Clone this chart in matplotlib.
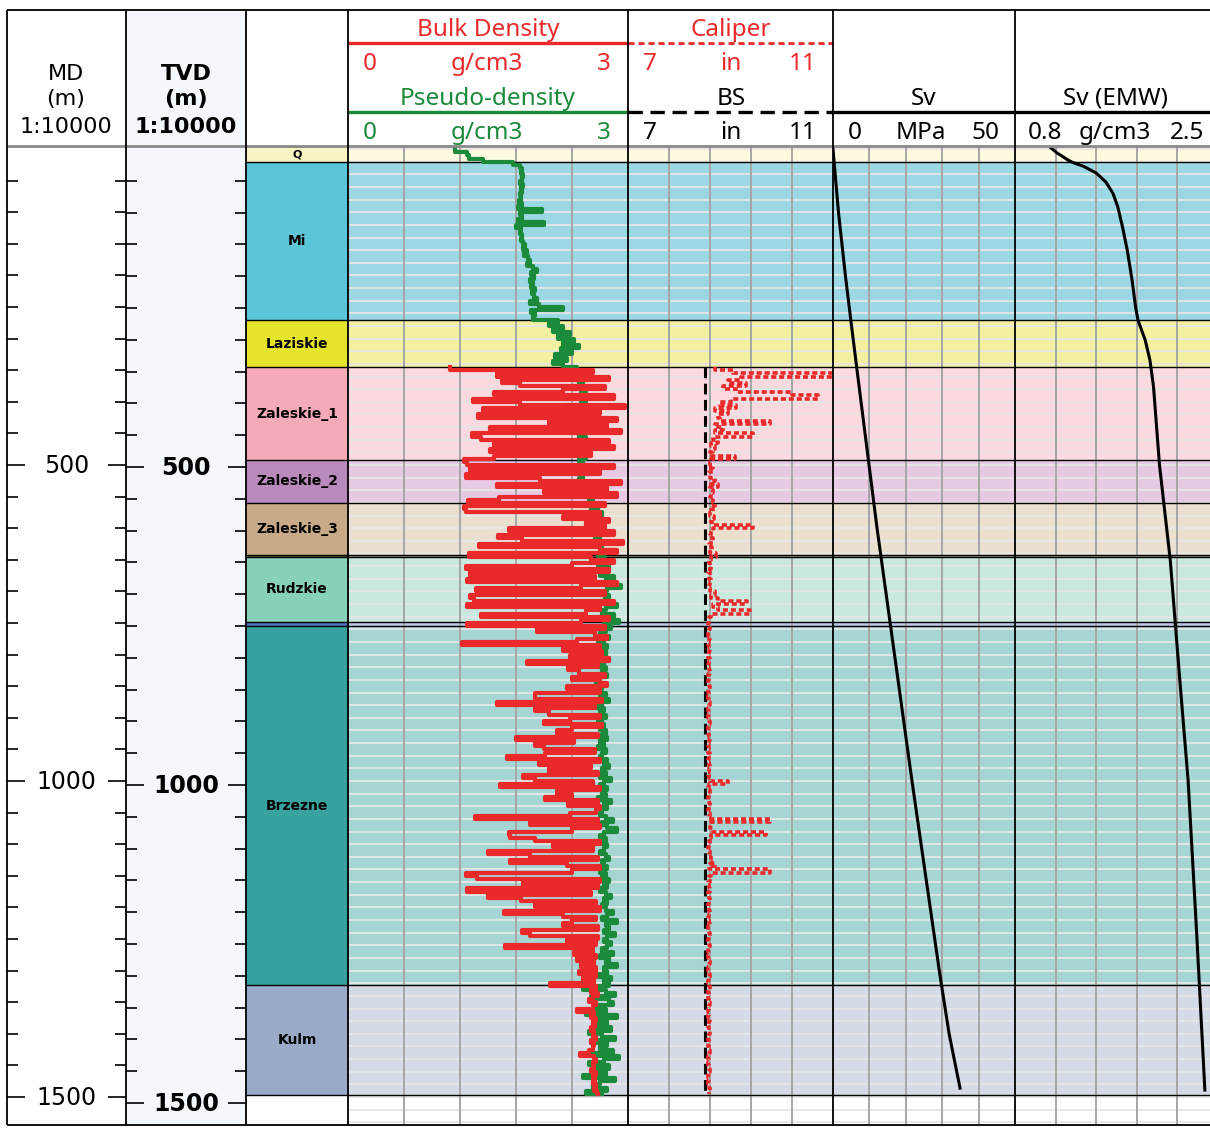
import numpy as np
import matplotlib.pyplot as plt
from matplotlib.patches import Rectangle
from matplotlib.transforms import blended_transform_factory

W, H = 1210, 1130
D_TOP, D_BOT = -3.2, 1544.3
TVD_K = 1500 / 1509.5

RED = "#ea2a2a"
GREEN = "#1b8a3a"
HEAD_FONT = ["Noto Sans", "DejaVu Sans"]

# formations: name, top, base (m MD), column colour, track colour
form_names = ["Q", "Mi", "Laziskie", "Zaleskie_1", "Zaleskie_2", "Zaleskie_3",
              "", "Rudzkie", "", "Brzezne", "Kulm"]
form_tops = [-3.2, 20.6, 270.6, 345, 492, 560, 642, 645, 748, 755, 1323]
form_bases = [20.6, 270.6, 345, 492, 560, 642, 645, 748, 755, 1323, 1497]
form_colors = ["#f8f3c2", "#5bc6d8", "#e6e32b", "#f5aab7", "#b98abb", "#c8aa88",
               "#6b6b3a", "#88d1ba", "#4f74c4", "#37a29e", "#99abc9"]
track_colors = ["#fdfae0", "#9bd8e4", "#f3f0a0", "#fbdadf", "#e8c9e4", "#ebdfcf",
                "#a9a77a", "#c9e9e0", "#b9c8ea", "#a6d6d4", "#d4dbe7"]

# bulk density (g/cm3), every 5 m from 345 m
rhob_start = 345
rhob = [
    1.09, 2.62, 1.60, 2.80, 1.65, 1.84, 2.75, 2.30, 1.56, 2.85,
    1.34, 1.84, 2.97, 1.45, 2.70, 1.39, 2.88, 2.15, 2.78, 1.52,
    2.92, 1.33, 1.42, 2.80, 1.56, 2.85, 1.52, 2.60, 1.56, 1.24,
    1.27, 2.85, 1.31, 2.70, 1.26, 2.06, 2.92, 1.60, 2.78, 2.10,
    2.88, 1.62, 1.29, 2.75, 1.24, 1.26, 2.70, 2.30, 2.80, 2.55,
    2.75, 1.73, 2.85, 1.61, 1.86, 2.95, 1.40, 2.70, 2.88, 1.30,
    2.60, 2.85, 2.40, 1.26, 2.80, 1.31, 2.65, 1.28, 2.88, 2.50,
    1.37, 2.75, 1.31, 1.35, 2.85, 1.28, 2.70, 2.55, 1.43, 2.80,
    2.50, 1.28, 2.75, 2.03, 2.65, 2.78, 2.45, 1.22, 2.70, 2.30,
    2.72, 2.38, 2.80, 1.92, 2.68, 2.36, 2.47, 2.75, 2.40, 2.70,
    2.78, 2.35, 2.70, 2.00, 2.00, 2.72, 1.60, 2.65, 2.00, 2.15,
    2.70, 2.38, 2.10, 2.72, 2.40, 2.24, 2.68, 1.80, 2.42, 2.00,
    2.10, 2.65, 2.11, 1.70, 2.70, 2.05, 2.60, 2.15, 2.68, 1.87,
    2.00, 2.62, 1.63, 2.70, 2.24, 2.40, 2.11, 2.68, 2.36, 2.70,
    2.66, 2.38, 1.36, 2.68, 1.95, 2.70, 2.40, 1.72, 1.74, 2.00,
    2.70, 2.20, 2.62, 1.50, 1.95, 2.68, 1.74, 2.35, 2.70, 2.40,
    1.26, 1.38, 2.70, 1.87, 2.68, 1.27, 2.60, 1.50, 1.85, 2.66,
    2.00, 2.70, 1.67, 2.30, 2.66, 2.40, 2.30, 2.68, 1.86, 1.95,
    2.68, 2.35, 2.66, 1.68, 2.62, 2.42, 2.66, 2.45, 2.64, 2.50,
    2.66, 2.48, 2.66, 2.52, 2.64, 2.16, 2.66, 2.60, 2.68, 2.62,
    2.58, 2.66, 2.62, 2.45, 2.64, 2.60, 2.66, 2.62, 2.65, 2.60,
    2.64, 2.62, 2.66, 2.60, 2.64, 2.62, 2.58, 2.49, 2.64, 2.66,
    2.62, 2.64, 2.60, 2.66, 2.63, 2.65, 2.62, 2.66, 2.64, 2.67,
    2.68,
]

# pseudo-density (g/cm3), every 5 m from 0 m
rhop_start = 0
rhop = [
    1.15, 1.27, 1.30, 1.45, 1.77, 1.84, 1.86, 1.85, 1.87, 1.86,
    1.84, 1.87, 1.85, 1.86, 1.84, 1.85, 1.83, 1.86, 1.82, 2.08,
    1.84, 1.86, 1.82, 2.10, 1.80, 1.85, 1.84, 1.86, 1.85, 1.88,
    1.90, 1.87, 1.92, 1.89, 1.93, 1.95, 1.92, 1.98, 2.03, 1.96,
    1.99, 1.95, 1.98, 1.96, 2.00, 1.97, 1.99, 2.02, 1.95, 2.05,
    2.30, 1.96, 2.00, 1.98, 2.25, 2.15, 2.30, 2.20, 2.38, 2.25,
    2.42, 2.30, 2.48, 2.28, 2.40, 2.22, 2.35, 2.20, 2.30, 2.45,
    2.50, 2.45, 2.55, 2.48, 2.52, 2.40, 2.55, 2.50, 2.46, 2.55,
    2.50, 2.30, 2.52, 2.48, 2.40, 2.55, 2.50, 2.45, 2.35, 2.52,
    2.48, 2.55, 2.50, 2.45, 2.52, 2.58, 2.50, 2.55, 2.48, 2.52,
    2.55, 2.50, 2.58, 2.52, 2.48, 2.55, 2.60, 2.45, 2.55, 2.52,
    2.58, 2.62, 2.55, 2.68, 2.60, 2.72, 2.65, 2.58, 2.70, 2.62,
    2.68, 2.72, 2.65, 2.70, 2.75, 2.66, 2.72, 2.85, 2.68, 2.75,
    2.72, 2.68, 2.80, 2.74, 2.70, 2.85, 2.76, 2.72, 2.92, 2.78,
    2.72, 2.80, 2.75, 2.70, 2.88, 2.76, 2.72, 2.85, 2.78, 2.90,
    2.74, 2.82, 2.76, 2.70, 2.80, 2.74, 2.68, 2.78, 2.72, 2.76,
    2.70, 2.80, 2.74, 2.68, 2.76, 2.72, 2.78, 2.70, 2.66, 2.74,
    2.72, 2.68, 2.76, 2.70, 2.80, 2.72, 2.66, 2.74, 2.70, 2.76,
    2.72, 2.68, 2.74, 2.70, 2.76, 2.72, 2.78, 2.70, 2.74, 2.68,
    2.76, 2.72, 2.70, 2.78, 2.74, 2.80, 2.72, 2.76, 2.70, 2.82,
    2.74, 2.70, 2.78, 2.72, 2.76, 2.68, 2.82, 2.74, 2.78, 2.72,
    2.70, 2.76, 2.84, 2.72, 2.78, 2.88, 2.74, 2.70, 2.76, 2.72,
    2.78, 2.74, 2.70, 2.76, 2.80, 2.72, 2.74, 2.78, 2.70, 2.76,
    2.72, 2.80, 2.74, 2.78, 2.70, 2.76, 2.82, 2.74, 2.78, 2.72,
    2.76, 2.84, 2.78, 2.72, 2.88, 2.76, 2.80, 2.74, 2.86, 2.78,
    2.74, 2.82, 2.78, 2.72, 2.84, 2.70, 2.80, 2.76, 2.88, 2.74,
    2.78, 2.56, 2.82, 2.74, 2.80, 2.52, 2.76, 2.86, 2.60, 2.80,
    2.84, 2.62, 2.76, 2.55, 2.88, 2.70, 2.78, 2.64, 2.82, 2.58,
    2.72, 2.86, 2.60, 2.78, 2.70, 2.84, 2.62, 2.90, 2.74, 2.58,
    2.80, 2.66, 2.76, 2.52, 2.86, 2.70, 2.62, 2.78, 2.55, 2.72,
]

# caliper (in), every 5 m from 345 m; bit size (in)
cali_start = 345
cali = [
    8.70, 9.05, 10.98, 9.20, 8.95, 9.30, 8.85, 9.10, 10.20, 10.70,
    9.00, 8.80, 9.10, 8.70, 8.95, 8.75, 8.80, 9.77, 8.70, 8.85,
    8.70, 9.44, 8.65, 8.75, 8.62, 8.70, 8.65, 8.60, 9.09, 8.62,
    8.60, 8.65, 8.58, 8.62, 8.60, 8.70, 8.62, 8.75, 8.60, 8.66,
    8.62, 8.60, 8.65, 8.70, 8.62, 8.66, 8.60, 8.68, 8.62, 8.64,
    9.44, 8.65, 8.62, 8.60, 8.66, 8.62, 8.58, 8.64, 8.60, 8.72,
    8.62, 8.58, 8.60, 8.62, 8.56, 8.60, 8.58, 8.62, 8.60, 8.58,
    8.60, 8.70, 8.62, 8.75, 9.32, 8.66, 8.75, 9.38, 8.62, 8.58,
    8.58, 8.56, 8.60, 8.58, 8.57, 8.60, 8.58, 8.56, 8.58, 8.60,
    8.58, 8.57, 8.60, 8.58, 8.56, 8.58, 8.60, 8.57, 8.58, 8.56,
    8.58, 8.60, 8.57, 8.58, 8.56, 8.58, 8.60, 8.58, 8.57, 8.58,
    8.56, 8.58, 8.60, 8.58, 8.57, 8.56, 8.58, 8.60, 8.58, 8.57,
    8.58, 8.56, 8.60, 8.58, 8.57, 8.58, 8.60, 8.58, 8.56, 8.58,
    8.60, 8.95, 8.58, 8.57, 8.60, 8.58, 8.56, 8.58, 8.60, 8.58,
    8.57, 8.60, 8.58, 9.77, 8.62, 8.60, 8.65, 9.70, 8.62, 8.58,
    8.60, 8.58, 8.57, 8.60, 8.58, 8.62, 8.60, 8.70, 8.58, 9.77,
    8.62, 8.58, 8.60, 8.57, 8.58, 8.60, 8.56, 8.58, 8.60, 8.58,
    8.57, 8.58, 8.60, 8.58, 8.56, 8.58, 8.60, 8.57, 8.58, 8.60,
    8.58, 8.56, 8.58, 8.60, 8.57, 8.58, 8.56, 8.58, 8.60, 8.58,
    8.56, 8.58, 8.60, 8.58, 8.57, 8.58, 8.60, 8.56, 8.58, 8.57,
    8.58, 8.60, 8.58, 8.56, 8.58, 8.57, 8.60, 8.58, 8.56, 8.58,
    8.60, 8.58, 8.57, 8.58, 8.56, 8.58, 8.60, 8.58, 8.57, 8.58,
    8.56, 8.58, 8.60, 8.58, 8.57, 8.58, 8.56, 8.58, 8.60, 8.58,
    8.58,
]
bit_size = 8.5
bs_depth = [345, 1497]

# vertical stress (MPa) and its mud-weight equivalent (g/cm3)
sv_depth = [0, 100, 200, 271, 345, 400, 500, 600, 700, 800, 900, 1000,
            1100, 1200, 1300, 1400, 1486]
sv = [0, 1.5, 3.4, 4.9, 6.5, 7.7, 9.9, 12.1, 14.5, 16.9, 19.3, 21.7,
      24.2, 26.7, 29.2, 31.9, 34.9]
emw_depth = [-2, 6, 12, 17, 21, 27, 38, 52, 70, 91, 123, 160, 207, 250, 271,
             302, 334, 376, 500, 650, 840, 1000, 1236, 1489]
emw = [1.10, 1.15, 1.20, 1.24, 1.28, 1.37, 1.48, 1.56, 1.62, 1.66, 1.70,
       1.74, 1.78, 1.81, 1.83, 1.89, 1.93, 1.96, 2.01, 2.10, 2.18, 2.25,
       2.32, 2.39]


def px_axes(fig, x0, y0, x1, y1):
    return fig.add_axes([x0 / W, 1 - y1 / H, (x1 - x0) / W, (y1 - y0) / H])


def clean(ax):
    ax.set_xticks([])
    ax.set_yticks([])
    for s in ax.spines.values():
        s.set_visible(False)


def make_track(fig, x0, x1, xlim):
    ax = px_axes(fig, x0, 147, x1, 1125)
    ax.set_xlim(xlim)
    ax.set_ylim(D_BOT, D_TOP)
    for top, base, c in zip(form_tops, form_bases, track_colors):
        ax.axhspan(top, base, color=c, lw=0, zorder=0)
    for d in np.arange(0, 1545, 20):
        ax.axhline(d, color="#e6e6e6", lw=1.3, zorder=1)
    for v in np.linspace(xlim[0], xlim[1], 6)[1:-1]:
        ax.axvline(v, color="#a6a6a6", lw=1.4, zorder=2)
    for b in form_tops[1:] + [form_bases[-1]]:
        ax.axhline(b, color="black", lw=1.0, zorder=3)
    clean(ax)
    return ax


def depth_column(fig, x0, x1, k, bold, bg):
    ax = px_axes(fig, x0, 147, x1, 1125)
    ax.set_facecolor(bg)
    ax.set_ylim(D_BOT * k, D_TOP * k)
    ax.set_xlim(0, 1)
    ax.set_xticks([])
    ax.set_yticks([500, 1000, 1500])
    ax.set_yticks(np.arange(50, 1550, 50), minor=True)
    ax.tick_params(axis="y", which="major", direction="in", length=13, width=1.2,
                   left=True, right=True, labelleft=False)
    ax.tick_params(axis="y", which="minor", direction="in", length=8, width=1.2,
                   left=True, right=True)
    for s in ax.spines.values():
        s.set_visible(False)
    tr = blended_transform_factory(ax.transAxes, ax.transData)
    for d in [500, 1000, 1500]:
        ax.text(0.5, d + 2, str(d), transform=tr, ha="center", va="center",
                fontsize=17, fontweight="bold" if bold else "normal")
    return ax


def main():
    fig = plt.figure(figsize=(W / 100, H / 100), dpi=100)

    depth_column(fig, 7, 126, 1.0, False, "white")
    depth_column(fig, 126, 246, TVD_K, True, "#f4f7fb")

    # formation column
    fax = px_axes(fig, 246, 147, 348, 1125)
    fax.set_xlim(0, 1)
    fax.set_ylim(D_BOT, D_TOP)
    for name, top, base, c in zip(form_names, form_tops, form_bases, form_colors):
        fax.axhspan(top, base, color=c, lw=0)
        fax.axhline(base, color="black", lw=1.0)
        if name:
            fax.text(0.5, (top + base) / 2, name, ha="center", va="center",
                     fontsize=8 if name == "Q" else 10, fontweight="bold")
    clean(fax)

    # density track
    dax = make_track(fig, 348, 628, (0, 3))
    rp_depth = rhop_start + 5 * np.arange(len(rhop))
    rb_depth = rhob_start + 5 * np.arange(len(rhob))
    dax.plot(rhop, rp_depth, color=GREEN, lw=3.0, drawstyle="steps-pre", zorder=5)
    dax.plot(rhob, rb_depth, color=RED, lw=3.0, drawstyle="steps-pre", zorder=6)

    # caliper track
    cax = make_track(fig, 628, 833, (7, 11))
    c_depth = cali_start + 5 * np.arange(len(cali))
    cax.plot([bit_size, bit_size], bs_depth, color="black", lw=2.2,
             linestyle=(0, (3.5, 1.8)), zorder=5)
    cax.plot(cali, c_depth, color=RED, lw=2.6, linestyle=(0, (1.4, 0.8)),
             drawstyle="steps-pre", zorder=6)

    # Sv tracks
    sax = make_track(fig, 833, 1015, (0, 50))
    sax.plot(sv, sv_depth, color="black", lw=2.2, zorder=5)
    eax = make_track(fig, 1015, 1218, (0.8, 2.5))
    eax.plot(emw, emw_depth, color="black", lw=2.2, zorder=5)

    # header and frame overlay (pixel coordinates)
    ov = fig.add_axes([0, 0, 1, 1])
    ov.set_xlim(0, W)
    ov.set_ylim(H, 0)
    ov.axis("off")
    ov.add_patch(Rectangle((126, 10), 120, 136, color="#f4f7fb", lw=0, zorder=0))

    for txt, y in [("MD", 74), ("(m)", 99), ("1:10000", 127)]:
        ov.text(66, y, txt, ha="center", va="center", fontsize=16)
        ov.text(186, y, "TVD" if txt == "MD" else txt, ha="center", va="center",
                fontsize=16, fontweight="bold")

    def htext(x, y, s, color="black"):
        ov.text(x, y + 2, s, ha="center", va="center", fontsize=17.5, color=color,
                family=HEAD_FONT)

    htext(488, 28, "Bulk Density", RED)
    htext(370, 62, "0", RED)
    htext(487, 62, "g/cm3", RED)
    htext(604, 62, "3", RED)
    htext(488, 97, "Pseudo-density", GREEN)
    htext(370, 131, "0", GREEN)
    htext(487, 131, "g/cm3", GREEN)
    htext(604, 131, "3", GREEN)
    ov.hlines(43, 348, 628, color=RED, lw=2.4)
    ov.hlines(112, 348, 628, color=GREEN, lw=2.4)

    htext(731, 28, "Caliper", RED)
    htext(650, 62, "7", RED)
    htext(731, 62, "in", RED)
    htext(803, 62, "11", RED)
    htext(731, 97, "BS")
    htext(650, 131, "7")
    htext(731, 131, "in")
    htext(803, 131, "11")
    ov.hlines(43, 628, 833, color=RED, lw=2.0, linestyles=[(0, (2.2, 1.4))])
    ov.hlines(112, 628, 833, color="black", lw=2.4, linestyles=[(0, (4.3, 2.3))])

    htext(924, 97, "Sv")
    htext(855, 131, "0")
    htext(921, 131, "MPa")
    htext(985, 131, "50")
    ov.hlines(112, 833, 1015, color="black", lw=2.4)

    htext(1115, 97, "Sv (EMW)")
    htext(1045, 131, "0.8")
    htext(1115, 131, "g/cm3")
    htext(1187, 131, "2.5")
    ov.hlines(112, 1015, 1210, color="black", lw=2.4)

    ov.hlines(146, 7, 1210, color="#8a8a8a", lw=2.0)
    ov.vlines([7, 126, 246, 348, 628, 833, 1015], 10, 1125, color="black", lw=1.3)
    ov.hlines([10, 1125], 7, 1210, color="black", lw=1.3)

    fig.savefig("out.png", dpi=100)


if __name__ == "__main__":
    main()
